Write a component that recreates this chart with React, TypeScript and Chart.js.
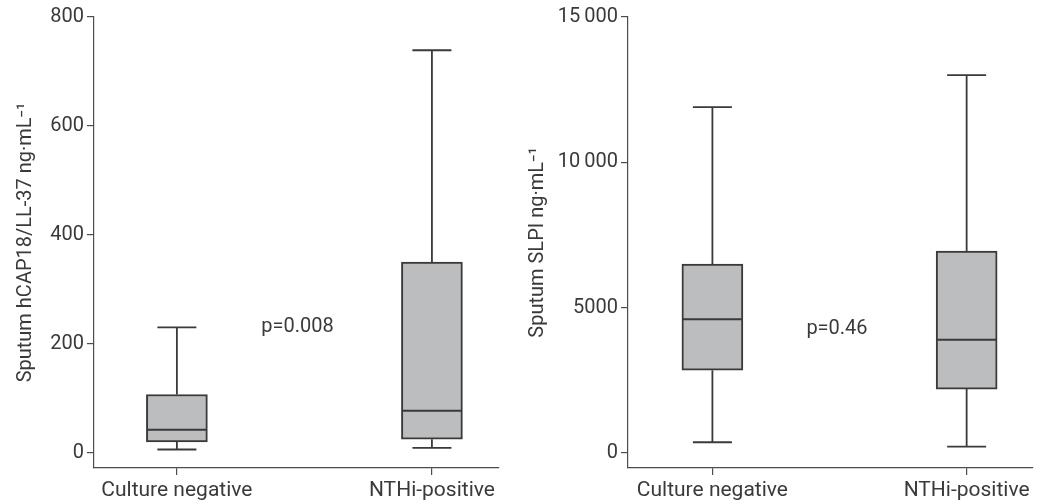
import React, { useEffect, useRef } from "react";
import { Chart, registerables } from "chart.js";

Chart.register(...registerables);

const CATEGORIES = ["Culture negative", "NTHi-positive"];

// Left panel: sputum hCAP18/LL-37 (ng/mL)
const HCAP_MIN = [6, 9];
const HCAP_Q1 = [20, 25];
const HCAP_MEDIAN = [42, 77];
const HCAP_Q3 = [107, 350];
const HCAP_MAX = [230, 739];
const HCAP_TICKS = [0, 200, 400, 600, 800];
const HCAP_TICK_LABELS = ["0", "200", "400", "600", "800"];
const HCAP_P = "p=0.008";

// Right panel: sputum SLPI (ng/mL)
const SLPI_MIN = [370, 220];
const SLPI_Q1 = [2850, 2200];
const SLPI_MEDIAN = [4600, 3900];
const SLPI_Q3 = [6500, 6950];
const SLPI_MAX = [11900, 13000];
const SLPI_TICKS = [0, 5000, 10000, 15000];
const SLPI_TICK_LABELS = ["0", "5000", "10\u2009000", "15\u2009000"];
const SLPI_P = "p=0.46";

const INK = "#3a3a3a";
const AXIS = "#4d4d4d";
const FILL = "#bcbdbf";
const FONT = "Roboto";

type Panel = {
  min: number[];
  q1: number[];
  median: number[];
  q3: number[];
  max: number[];
  ticks: number[];
  tickLabels: string[];
  yMin: number;
  yMax: number;
  xMin: number;
  xMax: number;
  title: string;
  titlePad: number;
  yWidth: number;
  rightPad: number;
  pText: string;
  pX: number;
  pY: number;
};

const LEFT: Panel = {
  min: HCAP_MIN,
  q1: HCAP_Q1,
  median: HCAP_MEDIAN,
  q3: HCAP_Q3,
  max: HCAP_MAX,
  ticks: HCAP_TICKS,
  tickLabels: HCAP_TICK_LABELS,
  yMin: -28,
  yMax: 800,
  xMin: -0.325,
  xMax: 1.263,
  title: "Sputum hCAP18/LL-37 ng\u00B7mL\u207B\u00B9",
  titlePad: 14,
  yWidth: 94,
  rightPad: 21,
  pText: HCAP_P,
  pX: 0.473,
  pY: 230,
};

const RIGHT: Panel = {
  min: SLPI_MIN,
  q1: SLPI_Q1,
  median: SLPI_MEDIAN,
  q3: SLPI_Q3,
  max: SLPI_MAX,
  ticks: SLPI_TICKS,
  tickLabels: SLPI_TICK_LABELS,
  yMin: -516,
  yMax: 15000,
  xMin: -0.332,
  xMax: 1.261,
  title: "Sputum SLPI ng\u00B7mL\u207B\u00B9",
  titlePad: 6,
  yWidth: 108,
  rightPad: 7,
  pText: SLPI_P,
  pX: 0.49,
  pY: 4270,
};

const BOX_W = 61;
const CAP_W = 39;

function makeBoxPlugin(p: Panel) {
  return {
    id: "boxWhiskers",
    beforeDatasetsDraw(chart: any) {
      const xs = chart.scales.x;
      const ys = chart.scales.y;
      const ctx = chart.ctx;
      ctx.save();
      ctx.strokeStyle = INK;
      ctx.lineWidth = 1.8;
      for (let i = 0; i < p.q1.length; i++) {
        const x = xs.getPixelForValue(i);
        const yMax = ys.getPixelForValue(p.max[i]);
        const yMin = ys.getPixelForValue(p.min[i]);
        const yQ1 = ys.getPixelForValue(p.q1[i]);
        const yQ3 = ys.getPixelForValue(p.q3[i]);
        ctx.beginPath();
        ctx.moveTo(x, yQ3);
        ctx.lineTo(x, yMax);
        ctx.moveTo(x - CAP_W / 2, yMax);
        ctx.lineTo(x + CAP_W / 2, yMax);
        ctx.moveTo(x, yQ1);
        ctx.lineTo(x, yMin);
        ctx.moveTo(x - CAP_W / 2, yMin);
        ctx.lineTo(x + CAP_W / 2, yMin);
        ctx.stroke();
      }
      ctx.restore();
    },
    afterDatasetsDraw(chart: any) {
      const xs = chart.scales.x;
      const ys = chart.scales.y;
      const ctx = chart.ctx;
      ctx.save();
      ctx.strokeStyle = INK;
      ctx.lineWidth = 2;
      for (let i = 0; i < p.median.length; i++) {
        const x = xs.getPixelForValue(i);
        const y = ys.getPixelForValue(p.median[i]);
        ctx.beginPath();
        ctx.moveTo(x - BOX_W / 2 + 1, y);
        ctx.lineTo(x + BOX_W / 2 - 1, y);
        ctx.stroke();
      }
      ctx.fillStyle = INK;
      ctx.font = `20px ${FONT}`;
      ctx.textAlign = "center";
      ctx.textBaseline = "middle";
      ctx.fillText(p.pText, xs.getPixelForValue(p.pX), ys.getPixelForValue(p.pY));
      ctx.restore();
    },
  };
}

function BoxChart({ panel }: { panel: Panel }) {
  const ref = useRef<HTMLCanvasElement | null>(null);
  useEffect(() => {
    if (!ref.current) return;
    const p = panel;
    const chart = new Chart(ref.current, {
      type: "bar",
      data: {
        datasets: [
          {
            data: p.q1.map((v, i) => ({ x: i, y: [v, p.q3[i]] })) as any,
            backgroundColor: FILL,
            borderColor: INK,
            borderWidth: 2,
            borderSkipped: false,
            barThickness: BOX_W,
          },
        ],
      },
      options: {
        responsive: false,
        animation: false,
        layout: { padding: { left: 0, right: p.rightPad, top: 17, bottom: 0 } },
        plugins: { legend: { display: false }, tooltip: { enabled: false } },
        scales: {
          x: {
            type: "linear",
            offset: false,
            min: p.xMin,
            max: p.xMax,
            afterBuildTicks: (s: any) => {
              s.ticks = CATEGORIES.map((_, i) => ({ value: i }));
            },
            afterFit: (s: any) => {
              s.height = 36;
            },
            ticks: {
              callback: (_v: any, i: number) => CATEGORIES[i],
              color: INK,
              font: { family: FONT, size: 21 },
              padding: 3,
              maxRotation: 0,
              autoSkip: false,
            },
            grid: { offset: false, drawOnChartArea: false, tickLength: 7, color: AXIS, lineWidth: 1.2 },
            border: { display: true, color: AXIS, width: 1.2 },
          },
          y: {
            type: "linear",
            min: p.yMin,
            max: p.yMax,
            afterBuildTicks: (s: any) => {
              s.ticks = p.ticks.map((v) => ({ value: v }));
            },
            afterFit: (s: any) => {
              s.width = p.yWidth;
            },
            ticks: {
              callback: (_v: any, i: number) => p.tickLabels[i],
              color: INK,
              font: { family: FONT, size: 20 },
              padding: 3,
            },
            grid: { drawOnChartArea: false, tickLength: 7, color: AXIS, lineWidth: 1.2 },
            border: { display: true, color: AXIS, width: 1.2 },
            title: {
              display: true,
              text: p.title,
              color: INK,
              font: { family: FONT, size: 20 },
              padding: { top: p.titlePad, bottom: 0 },
            },
          },
        },
      },
      plugins: [makeBoxPlugin(p)],
    });
    return () => chart.destroy();
  }, [panel]);
  return <canvas ref={ref} width={520} height={504} style={{ display: "block" }} />;
}

export default function App() {
  return (
    <div style={{ position: "absolute", left: 0, top: 0, width: 1040, height: 504, background: "#fff" }}>
      <div style={{ position: "absolute", left: 0, top: 0, width: 520, height: 504 }}>
        <BoxChart panel={LEFT} />
      </div>
      <div style={{ position: "absolute", left: 520, top: 0, width: 520, height: 504 }}>
        <BoxChart panel={RIGHT} />
      </div>
    </div>
  );
}
